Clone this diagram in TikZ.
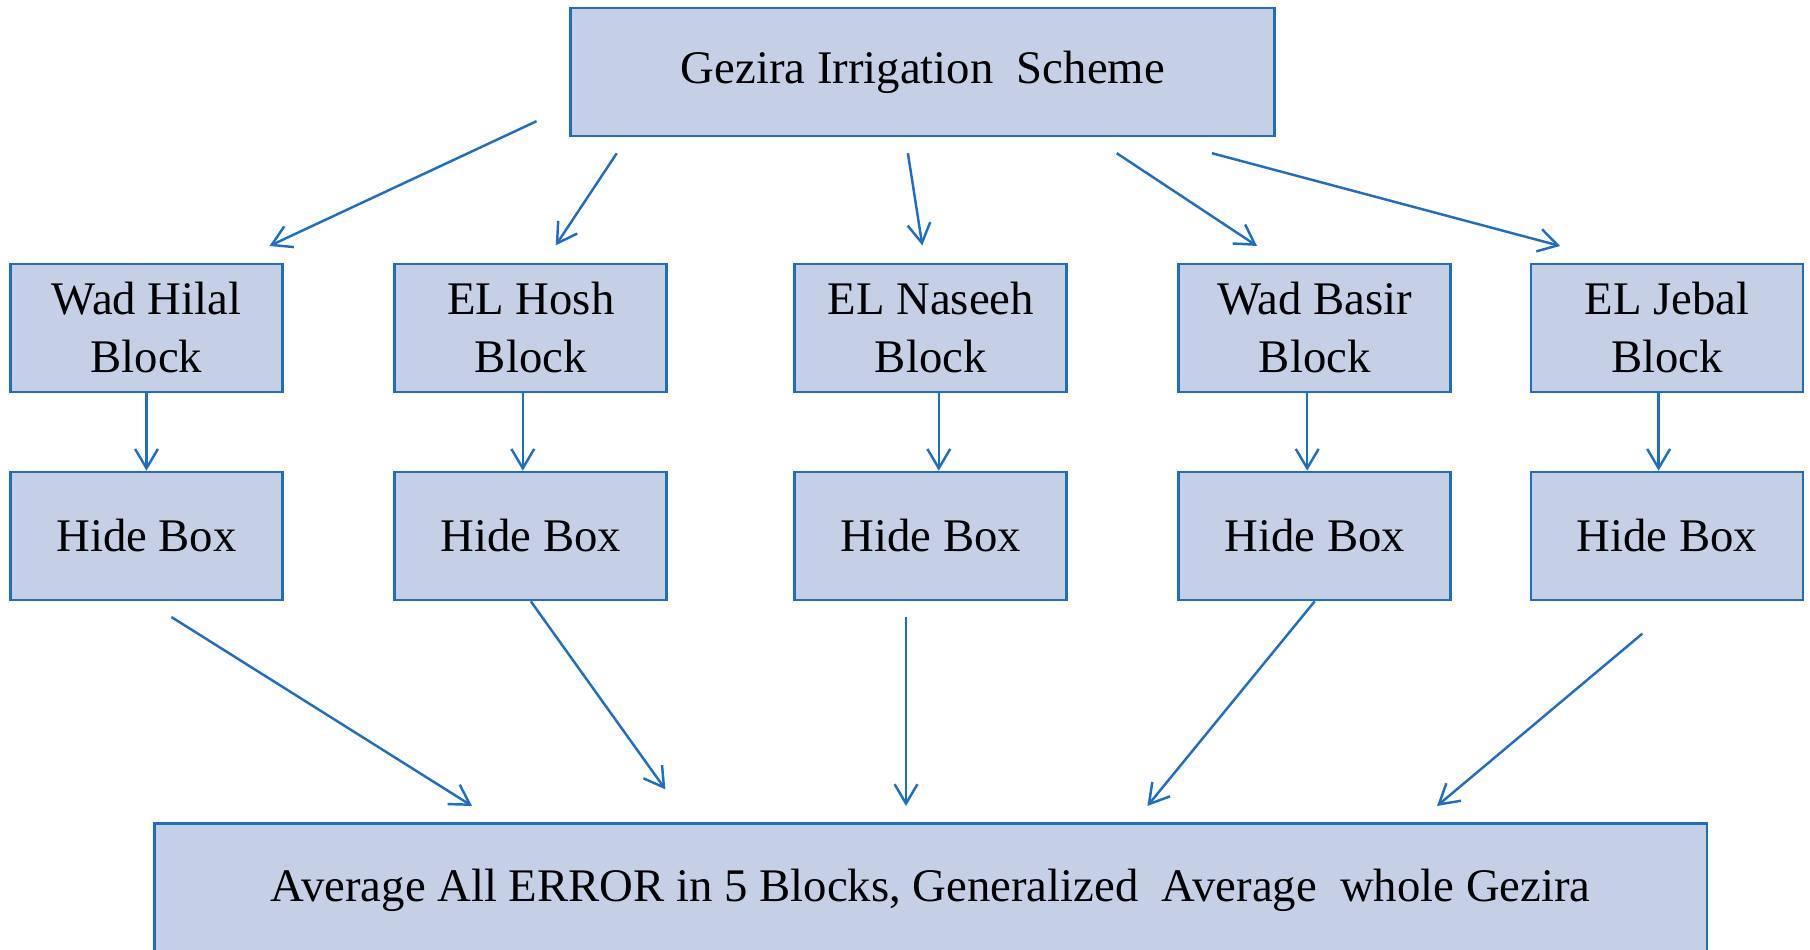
\documentclass[tikz,border=0pt]{standalone}
\usepackage{fontspec}
\setmainfont{Liberation Serif}
\usepackage{tikz}
\usetikzlibrary{arrows.meta}
\definecolor{boxfill}{HTML}{C5D0E7}
\definecolor{boxline}{HTML}{1E6FC3}
\tikzset{>={Straight Barb[length=5.5pt,width=6.5pt]}}
\tikzset{box/.style={draw=boxline, fill=boxfill, line width=0.75pt, inner sep=0pt, align=center, font=\fontsize{13.3}{16.5}\selectfont}}
\tikzset{blk/.style={box, minimum width=2.72cm, minimum height=1.28cm}}
\tikzset{link/.style={->, draw=boxline, line width=0.7pt}}

\begin{document}
\begin{tikzpicture}
\useasboundingbox (0,0) rectangle (18.1,9.5);
\clip (0,0) rectangle (18.1,9.5);
\node [box, minimum width=7.04cm, minimum height=1.28cm] (gis) at (9.228,8.781) {Gezira Irrigation \ Scheme};
\node [blk] (wh) at (1.465,6.22) {Wad Hilal\\Block};
\node [blk] (eh) at (5.308,6.22) {EL Hosh\\Block};
\node [blk] (en) at (9.308,6.22) {EL Naseeh\\Block};
\node [blk] (wb) at (13.147,6.22) {Wad Basir\\Block};
\node [blk] (ej) at (16.67,6.22) {EL Jebal\\Block};
\node [blk] (hw) at (1.465,4.14) {Hide Box};
\node [blk] (hh) at (5.308,4.14) {Hide Box};
\node [blk] (hn) at (9.308,4.14) {Hide Box};
\node [blk] (hb) at (13.147,4.14) {Hide Box};
\node [blk] (hj) at (16.67,4.14) {Hide Box};
\node [box, minimum width=15.52cm, minimum height=1.34cm] (avg) at (9.308,0.593) {Average All ERROR in 5 Blocks, Generalized \ Average \ whole Gezira};
\draw [link] ([xshift=-0.329cm,yshift=0.16cm]gis.south west) -- ([xshift=-0.144cm,yshift=0.167cm]wh.north east);
\draw [link] ([xshift=0.473cm,yshift=-0.16cm]gis.south west) -- ([xshift=0.249cm,yshift=0.173cm]eh.north);
\draw [link] ([xshift=-0.149cm,yshift=-0.16cm]gis.south) -- ([xshift=-0.085cm,yshift=0.173cm]en.north);
\draw [link] ([xshift=-1.594cm,yshift=-0.16cm]gis.south east) -- ([xshift=-0.577cm,yshift=0.167cm]wb.north);
\draw [link] ([xshift=-0.642cm,yshift=-0.16cm]gis.south east) -- ([xshift=0.305cm,yshift=0.167cm]ej.north west);
\foreach \a/\b/\s in {wh/hw/0, eh/hh/-0.08, en/hn/0.08, wb/hb/-0.075, ej/hj/-0.084}
  \draw [link] ([xshift=\s cm]\a.south) -- ([xshift=\s cm]\b.north);
\draw [link] ([xshift=0.249cm,yshift=-0.157cm]hw.south) -- ([xshift=3.186cm,yshift=0.164cm]avg.north west);
\draw [link] (hh.south) -- ([xshift=5.119cm,yshift=0.33cm]avg.north west);
\draw [link] ([xshift=-0.248cm,yshift=-0.157cm]hn.south) -- ([xshift=-0.248cm,yshift=0.164cm]avg.north);
\draw [link] (hb.south) -- ([xshift=2.166cm,yshift=0.164cm]avg.north);
\draw [link] ([xshift=-0.246cm,yshift=-0.323cm]hj.south) -- ([xshift=-2.711cm,yshift=0.164cm]avg.north east);
\end{tikzpicture}
\end{document}
